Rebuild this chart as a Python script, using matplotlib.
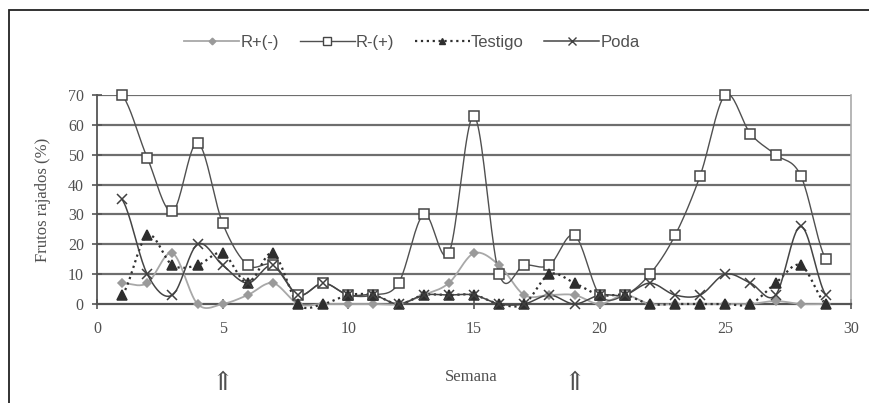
import numpy as np
import matplotlib
matplotlib.use("Agg")
import matplotlib.pyplot as plt
from matplotlib.lines import Line2D
from matplotlib.patches import Rectangle

semana = list(range(1, 30))
r_mas = [7, 7, 17, 0, 0, 3, 7, 0, 0, 0, 0, 0, 3, 7, 17, 13, 3, 3, 3, 0, 3, 0, 0, 0, 0, 0, 1, 0, 0]
r_menos = [70, 49, 31, 54, 27, 13, 13, 3, 7, 3, 3, 7, 30, 17, 63, 10, 13, 13, 23, 3, 3, 10, 23, 43, 70, 57, 50, 43, 15]
testigo = [3, 23, 13, 13, 17, 7, 17, 0, 0, 3, 3, 0, 3, 3, 3, 0, 0, 10, 7, 3, 3, 0, 0, 0, 0, 0, 7, 13, 0]
poda = [35, 10, 3, 20, 13, 7, 13, 3, 7, 3, 3, 0, 3, 3, 3, 0, 0, 3, 0, 3, 3, 7, 3, 3, 10, 7, 3, 26, 3]
flechas = [5, 19]


def suave(x, y, n=20):
    # curva tipo "linea suavizada" de Excel (Catmull-Rom)
    x = np.asarray(x, float)
    y = np.asarray(y, float)
    px = np.concatenate([[2 * x[0] - x[1]], x, [2 * x[-1] - x[-2]]])
    py = np.concatenate([[y[0]], y, [y[-1]]])
    xs, ys = [], []
    t = np.linspace(0, 1, n, endpoint=False)
    for i in range(1, len(px) - 2):
        p0, p1, p2, p3 = py[i - 1], py[i], py[i + 1], py[i + 2]
        q0, q1, q2, q3 = px[i - 1], px[i], px[i + 1], px[i + 2]
        for a, b, c, d, out in ((q0, q1, q2, q3, xs), (p0, p1, p2, p3, ys)):
            out.extend(0.5 * (2 * b + (-a + c) * t + (2 * a - 5 * b + 4 * c - d) * t ** 2
                              + (-a + 3 * b - 3 * c + d) * t ** 3))
    xs.append(x[-1])
    ys.append(y[-1])
    return xs, ys


fig = plt.figure(figsize=(8.69, 4.03), dpi=100)
ax = fig.add_axes([0.1116, 0.2457, 0.8677, 0.5186])

for v in range(10, 80, 10):
    ax.axhline(v, color="#6e6e6e", lw=1.6, zorder=1)

series = [
    (r_mas, "#a8a8a8", "-", 1.3, "D", "#9a9a9a", "#9a9a9a", 4.5, "R+(-)"),
    (r_menos, "#505050", "-", 1.0, "s", "white", "#454545", 7, "R-(+)"),
    (testigo, "#303030", ":", 1.6, "^", "#2e2e2e", "#2e2e2e", 6.5, "Testigo"),
    (poda, "#454545", "-", 1.1, "x", "#404040", "#404040", 7, "Poda"),
]
handles = []
for ys, lc, ls, lw, mk, mf, me, ms, lab in series:
    sx, sy = suave(semana, ys)
    ax.plot(sx, sy, color=lc, ls=ls, lw=lw, zorder=3, clip_on=False)
    ax.plot(semana, ys, ls="none", marker=mk, mfc=mf, mec=me, ms=ms,
            mew=1.1, zorder=4, clip_on=False)
    handles.append(Line2D([], [], color=lc, ls=ls, lw=lw, marker=mk, mfc=mf,
                          mec=me, ms=ms * 0.75, mew=1.0, label=lab))

ax.set_xlim(0, 30)
ax.set_ylim(0, 70)
ax.set_xticks(range(0, 31, 5))
ax.set_yticks(range(0, 71, 10))
ax.set_xticklabels(["0", "5", "10", "15", "20", "25", "30"])
for lbl in ax.get_xticklabels() + ax.get_yticklabels():
    lbl.set_family("Liberation Serif")
    lbl.set_fontsize(11.5)
    lbl.set_color("#505050")
ax.tick_params(axis="both", direction="inout", length=7, width=1.2,
               color="#555555", pad=6)
ax.tick_params(axis="x", pad=9)
ax.spines["top"].set_visible(False)
ax.spines["left"].set_color("#555555")
ax.spines["left"].set_linewidth(1.3)
ax.spines["bottom"].set_color("#555555")
ax.spines["bottom"].set_linewidth(1.6)
ax.spines["right"].set_color("#aaaaaa")
ax.spines["right"].set_linewidth(1.2)
ax.set_facecolor("none")

ax.set_ylabel("Frutos rajados (%)", family="Liberation Serif", fontsize=12,
              color="#505050", labelpad=12)
fig.text(0.542, 0.065, "Semana", family="Liberation Serif", fontsize=12,
         color="#505050", ha="center", va="center")
for s in flechas:
    xf = fig.transFigure.inverted().transform(ax.transData.transform((s, 0)))[0]
    fig.text(xf, 0.05, "\u21d1", family="DejaVu Serif", fontsize=19,
             color="#505050", ha="center", va="center")

leg = fig.legend(handles=handles, loc="center", bbox_to_anchor=(0.474, 0.895),
                 ncol=4, frameon=False, handlelength=3.3, handletextpad=0.05,
                 columnspacing=1.25, prop={"family": "Liberation Sans", "size": 12})
for t in leg.get_texts():
    t.set_color("#505050")

fig.patches.append(Rectangle((9 / 869, -0.5), 3.0, 1.5 - 10 / 403,
                             transform=fig.transFigure, fill=False,
                             ec="#222222", lw=1.3, zorder=0))

fig.savefig("out.png", dpi=100)
